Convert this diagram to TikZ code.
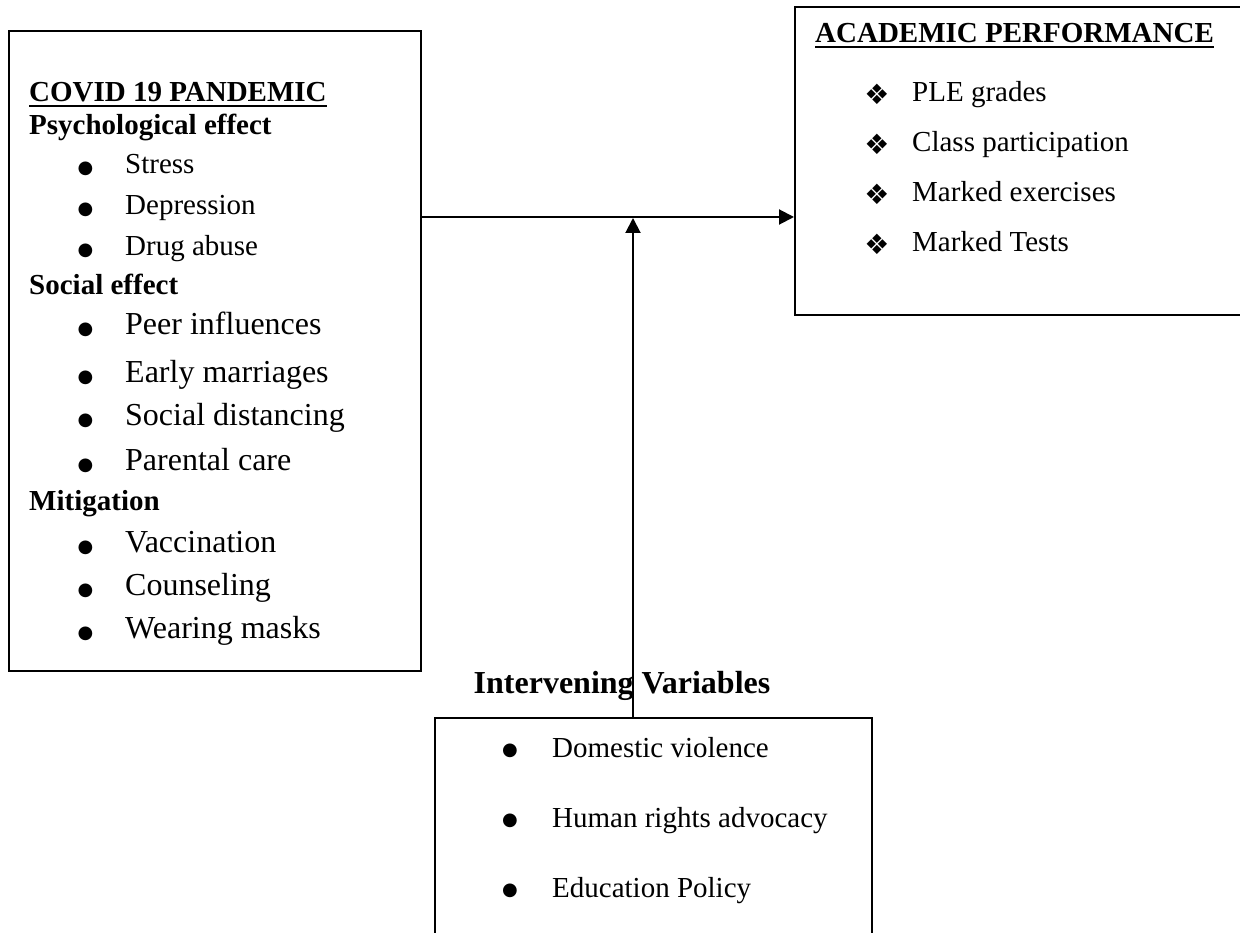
\documentclass[tikz,border=0pt]{standalone}
\usepackage{fontspec}
\setmainfont{Liberation Serif}
\newfontfamily\djv{DejaVu Sans}
\usetikzlibrary{arrows.meta}
\begin{document}
\begin{tikzpicture}[x=1pt,y=-1pt,
  box/.style={draw, line width=2pt, inner sep=0pt, rectangle},
  hd/.style={anchor=base west, inner sep=0pt, font=\bfseries\fontsize{29}{35}\selectfont},
  hdl/.style={anchor=base, inner sep=0pt, font=\bfseries\fontsize{32}{38}\selectfont},
  itm/.style={anchor=base west, inner sep=0pt, font=\fontsize{29}{35}\selectfont},
  itml/.style={anchor=base west, inner sep=0pt, font=\fontsize{32}{38}\selectfont},
  blt/.style={anchor=base, inner sep=0pt, font=\djv\fontsize{18}{20}\selectfont},
  dia/.style={anchor=center, inner sep=0pt, font=\djv\fontsize{28}{30}\selectfont},
  arr/.style={line width=2pt, -{Triangle[length=15pt,width=15pt]}},
  ulin/.style={line width=2.5pt}]
\useasboundingbox (0,0) rectangle (1240,933);
\begin{scope}
\clip (0,0) rectangle (1240,933);
% boxes
\node[box, minimum width=412pt, minimum height=640pt] (cov) at (215,351) {};
\node[box, minimum width=455pt, minimum height=308pt] (acad) at (1022.5,161) {};
\node[box, minimum width=437pt, minimum height=260pt] (interv) at (653.5,848) {};
% left box text
\node[hd] (covt) at (29,102) {COVID 19 PANDEMIC};
\draw[ulin] ([yshift=-4pt]covt.base west) -- ([yshift=-4pt]covt.base east);
\node[hd] (psy) at (29,135) {Psychological effect};
\node[hd] (soc) at (29,295) {Social effect};
\node[hd] (mit) at (29,510) {Mitigation};
\foreach \t/\y [count=\i] in {Stress/174, Depression/215, Drug abuse/256}{
  \node[blt] (pb\i) at (85.5,\y) {●};
  \node[itm] (pi\i) at (125,\y) {\t};
}
\foreach \t/\y [count=\i] in {Peer influences/335, Early marriages/382, Social distancing/425, Parental care/470, Vaccination/552, Counseling/595, Wearing masks/638}{
  \node[blt] (sb\i) at (85.5,\y) {●};
  \node[itml] (si\i) at (125,\y) {\t};
}
% right box text
\node[hd] (acadt) at (815,43) {ACADEMIC PERFORMANCE};
\draw[ulin] ([yshift=-4pt]acadt.base west) -- ([yshift=-4pt]acadt.base east);
\foreach \t/\y [count=\i] in {PLE grades/102, Class participation/152, Marked exercises/202, Marked Tests/252}{
  \node[dia] (ab\i) at (877,\y-7.5) {❖};
  \node[itm] (ai\i) at (912,\y) {\t};
}
% intervening
\node[hdl] (ivt) at (622,693) {Intervening Variables};
\foreach \t/\y [count=\i] in {Domestic violence/757, Human rights advocacy/827, Education Policy/897}{
  \node[blt] (ib\i) at (510,\y-2) {●};
  \node[itm] (ii\i) at (552,\y) {\t};
}
% connectors
\coordinate (j) at (633,217);
\draw[arr] (cov.east |- j) -- (acad.west |- j);
\draw[arr] (interv.north -| j) -- ([yshift=-1pt]j);
\end{scope}
\end{tikzpicture}
\end{document}
